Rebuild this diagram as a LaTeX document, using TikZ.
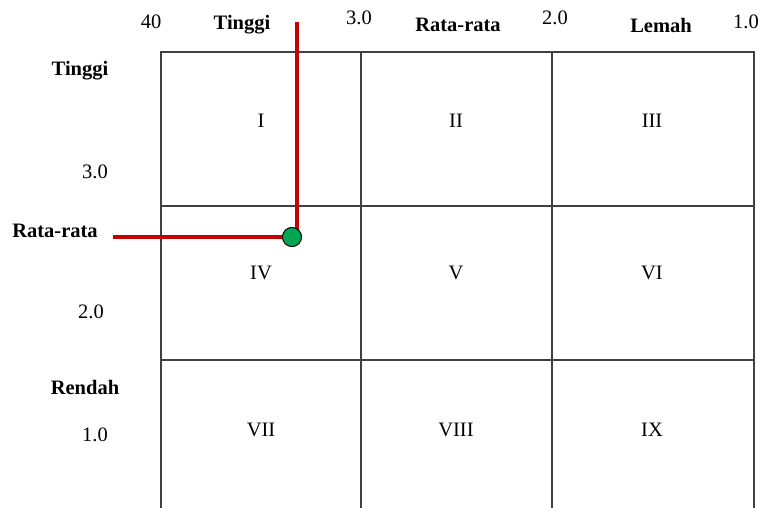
\documentclass[tikz,border=0pt]{standalone}
\usepackage{fontspec}
\setmainfont{Liberation Serif}
\definecolor{ptgreen}{RGB}{0,166,81}
\definecolor{redln}{RGB}{196,0,0}
\tikzset{
  grid/.style={draw=black!75, line width=1.3pt},
  lbl/.style={font=\fontsize{20.5}{24}\selectfont\bfseries, inner sep=0pt},
  num/.style={font=\fontsize{20.5}{24}\selectfont, inner sep=0pt},
  cell/.style={font=\fontsize{20.5}{24}\selectfont, inner sep=0pt},
  redline/.style={draw=redln, line width=4pt},
  dot/.style={circle, fill=ptgreen, draw=black, line width=0.8pt, minimum size=19pt, inner sep=0pt}
}
\begin{document}
\begin{tikzpicture}[x=1pt,y=-1pt]
\useasboundingbox (0,0) rectangle (764,508);
% grid
\draw[grid] (161,508) -- (161,52) -- (754,52) -- (754,508);
\draw[grid] (361,52) -- (361,508);
\draw[grid] (552,52) -- (552,508);
\draw[grid] (161,206) -- (754,206);
\draw[grid] (161,360) -- (754,360);
% top labels
\node[num] (t40) at (151,22) {40};
\node[lbl] (tT) at (242,25) {Tinggi};
\node[num] (t3) at (359,18) {3.0};
\node[lbl] (tR) at (458,25) {Rata-rata};
\node[num] (t2) at (555,18) {2.0};
\node[lbl] (tL) at (661,25) {Lemah};
\node[num] (t1) at (746,22) {1.0};
% left labels
\node[lbl] (lT) at (80,71) {Tinggi};
\node[num] (l3) at (95,172) {3.0};
\node[lbl] (lR) at (55,231) {Rata-rata};
\node[num] (l2) at (91,312) {2.0};
\node[lbl] (lRe) at (85,387) {Rendah};
\node[num] (l1) at (95,435) {1.0};
% cells
\node[cell] (c1) at (261,121) {I};
\node[cell] (c2) at (456,121) {II};
\node[cell] (c3) at (652,121) {III};
\node[cell] (c4) at (261,273) {IV};
\node[cell] (c5) at (456,273) {V};
\node[cell] (c6) at (652,273) {VI};
\node[cell] (c7) at (261,430) {VII};
\node[cell] (c8) at (456,430) {VIII};
\node[cell] (c9) at (652,430) {IX};
% red lines and point
\coordinate (vtop) at (297,22);
\coordinate (hleft) at (113,237);
\coordinate (corner) at (297,237);
\node[dot] (pt) at (292,237) {};
\draw[redline] (vtop) -- (corner);
\draw[redline] (hleft) -- (pt.center);
\node[dot] at (292,237) {};
\end{tikzpicture}
\end{document}
